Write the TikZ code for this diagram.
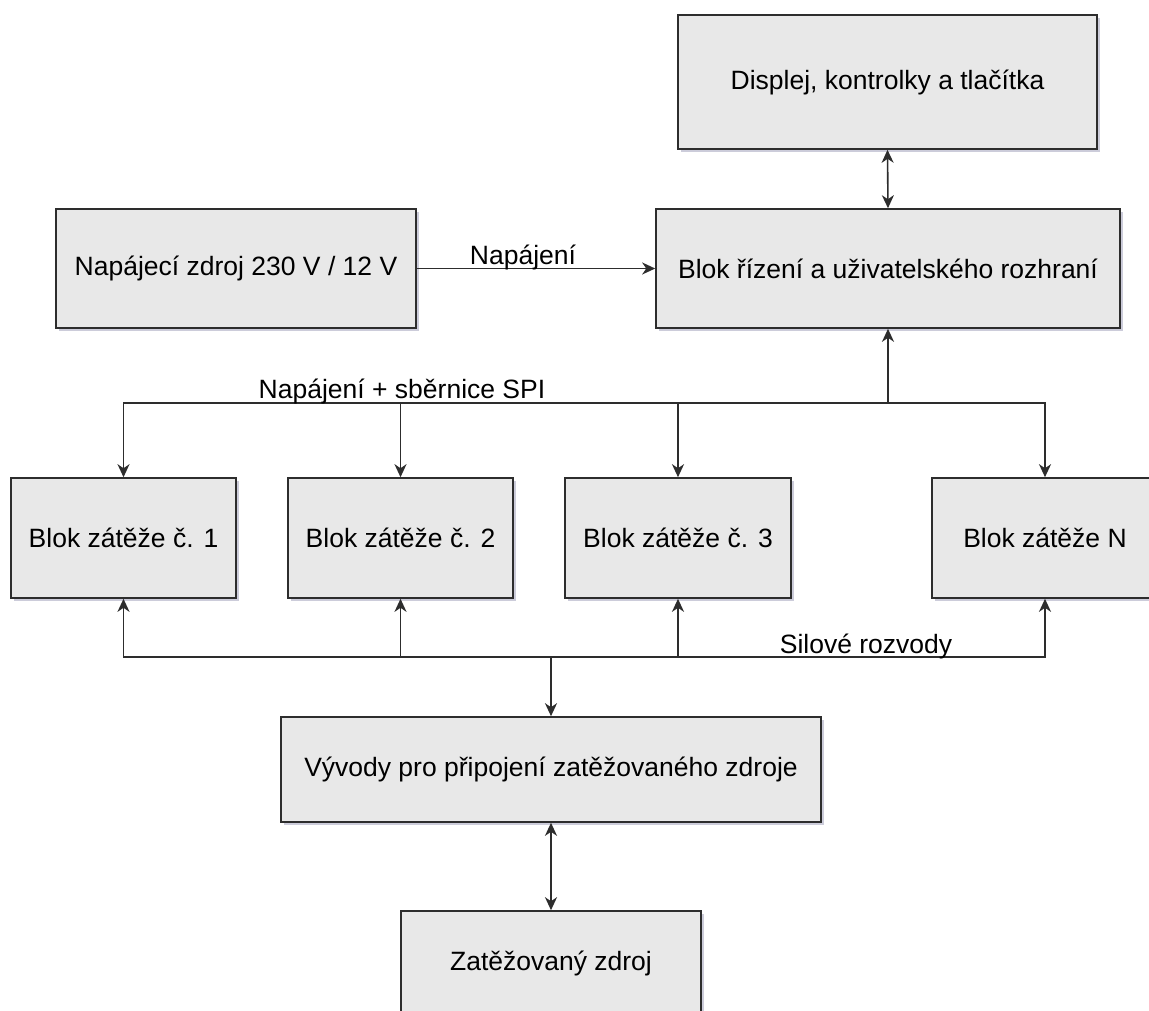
\documentclass[tikz,border=0pt]{standalone}
\usepackage{fontspec}
\setmainfont{Liberation Sans}
\usetikzlibrary{arrows.meta,shadows}
\definecolor{boxfill}{RGB}{232,232,232}
\definecolor{edge}{RGB}{45,45,45}
\definecolor{shade}{RGB}{110,110,150}
\begin{document}
\begin{tikzpicture}[x=1pt,y=-1pt,
  blk/.style={draw=edge, line width=1.6pt, fill=boxfill, rectangle, inner sep=0pt,
    align=center, font=\fontsize{26.5}{30}\selectfont,
    drop shadow={shadow xshift=3pt, shadow yshift=-3pt, opacity=0.35, fill=shade}},
  tip/.style={},
  conn/.style={draw=edge, line width=1.6pt, -{Stealth[length=13pt,width=12pt,inset=4pt]}},
  biconn/.style={draw=edge, line width=1.6pt,
    {Stealth[length=13pt,width=12pt,inset=4pt]}-{Stealth[length=13pt,width=12pt,inset=4pt]}},
  lbl/.style={font=\fontsize{26.5}{30}\selectfont, inner sep=0pt, anchor=base}]
\useasboundingbox (0,0) rectangle (1149,1010);
\fill[white] (0,0) rectangle (1149,1010);

\node[blk, minimum width=419pt, minimum height=134pt] (disp) at (887.5,82) {Displej, kontrolky a tlačítka};
\node[blk, minimum width=464pt, minimum height=119pt] (ctrl) at (888,268.5) {Blok řízení a uživatelského rozhraní};
\node[blk, minimum width=360pt, minimum height=119pt] (psu) at (236,268.5) {Napájecí zdroj 230 V / 12 V};

\node[blk, minimum width=225pt, minimum height=120pt] (b1) at (123.5,538) {Blok zátěže č. 1};
\node[blk, minimum width=225pt, minimum height=120pt] (b2) at (400.5,538) {Blok zátěže č. 2};
\node[blk, minimum width=226pt, minimum height=120pt] (b3) at (678,538) {Blok zátěže č. 3};
\node[blk, minimum width=226pt, minimum height=120pt] (bN) at (1045,538) {Blok zátěže N};

\node[blk, minimum width=540pt, minimum height=105pt] (vyv) at (551,769.5) {Vývody pro připojení zatěžovaného zdroje};
\node[blk, minimum width=300pt, minimum height=105pt] (zat) at (551,963.5) {Zatěžovaný zdroj};

\coordinate (spi) at (888,403);
\coordinate (pw) at (551,657);

% connectors
\draw[biconn] (disp.south) -- (ctrl.north);
\draw[conn] (psu.east) -- (ctrl.west);
\draw[conn] (spi) -- (ctrl.south);
\draw[conn] (spi) -| (b1.north);
\draw[conn] (spi) -| (bN.north);
\draw[conn] (b2.north |- spi) -- (b2.north);
\draw[conn] (b3.north |- spi) -- (b3.north);

\draw[conn] (pw) -| (b1.south);
\draw[conn] (pw) -| (bN.south);
\draw[conn] (b2.south |- pw) -- (b2.south);
\draw[conn] (b3.south |- pw) -- (b3.south);
\draw[conn] (pw) -- (vyv.north);
\draw[biconn] (vyv.south) -- (zat.north);

% labels
\node[lbl] (l1) at (523,264) {Napájení};
\node[lbl] (l2) at (402,398) {Napájení + sběrnice SPI};
\node[lbl] (l3) at (866,653) {Silové rozvody};
\end{tikzpicture}
\end{document}
